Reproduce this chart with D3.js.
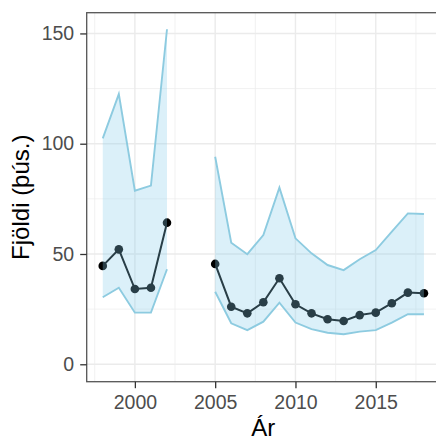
<!DOCTYPE html>
<html>
<head>
<meta charset="utf-8">
<script src="https://cdn.jsdelivr.net/npm/d3@7"></script>
<style>
  body { margin: 0; background: #fff; }
  svg { display: block; font-family: "Liberation Sans", Arial, sans-serif; }
</style>
</head>
<body>
<div id="chart"></div>
<script>
// values (þús.), null = no survey
var years = [1998, 1999, 2000, 2001, 2002, 2003, 2004, 2005, 2006, 2007, 2008,
             2009, 2010, 2011, 2012, 2013, 2014, 2015, 2016, 2017, 2018];
var estimate = [44.6, 52.1, 34.1, 34.7, 64.2, null, null, 45.5, 26.1, 23.1, 28.1,
                39.0, 27.2, 23.1, 20.4, 19.6, 22.3, 23.4, 27.7, 32.5, 32.2];
var lower = [30.4, 34.7, 23.4, 23.4, 43.1, null, null, 32.9, 18.6, 15.5, 19.3,
             27.9, 18.9, 15.9, 14.3, 13.6, 14.8, 15.5, 18.9, 22.7, 22.7];
var upper = [102.4, 122.5, 78.7, 81.0, 151.9, null, null, 94.1, 55.1, 49.9, 58.6,
             80.1, 57.1, 50.3, 45.0, 42.7, 47.6, 51.8, 60.1, 68.4, 68.1];

var xTicks = [2000, 2005, 2010, 2015];
var xMinor = [1997.5, 2002.5, 2007.5, 2012.5, 2017.5];
var yTicks = [0, 50, 100, 150];
var yMinor = [25, 75, 125];

var width = 436,
    height = 442,
    pLeft = 86.7,
    pRight = 440,
    pTop = 12.7,
    pBottom = 381.7;

var data = years.map(function(y, i) {
  return {year: y, est: estimate[i], lo: lower[i], hi: upper[i]};
});

var x = d3.scaleLinear().domain([1997, 2019]).range([pLeft, pRight]);
var y = d3.scaleLinear().domain([-7.9, 159.4]).range([pBottom, pTop]);

var svg = d3.select("#chart").append("svg")
    .attr("width", width)
    .attr("height", height);

svg.append("defs").append("clipPath")
    .attr("id", "panel")
  .append("rect")
    .attr("x", pLeft).attr("y", pTop)
    .attr("width", pRight - pLeft).attr("height", pBottom - pTop);

var g = svg.append("g").attr("clip-path", "url(#panel)");

// grid
g.selectAll(".minor-x").data(xMinor).enter().append("line")
    .attr("x1", x).attr("x2", x).attr("y1", pTop).attr("y2", pBottom)
    .attr("stroke", "#ebebeb").attr("stroke-width", 0.7);
g.selectAll(".minor-y").data(yMinor).enter().append("line")
    .attr("y1", y).attr("y2", y).attr("x1", pLeft).attr("x2", pRight)
    .attr("stroke", "#ebebeb").attr("stroke-width", 0.7);
g.selectAll(".major-x").data(xTicks).enter().append("line")
    .attr("x1", x).attr("x2", x).attr("y1", pTop).attr("y2", pBottom)
    .attr("stroke", "#ebebeb").attr("stroke-width", 1.4);
g.selectAll(".major-y").data(yTicks).enter().append("line")
    .attr("y1", y).attr("y2", y).attr("x1", pLeft).attr("x2", pRight)
    .attr("stroke", "#ebebeb").attr("stroke-width", 1.4);

var defined = function(d) { return d.est !== null; };

// estimate line + points (drawn under the translucent ribbon)
g.append("path")
    .datum(data)
    .attr("fill", "none")
    .attr("stroke", "#000")
    .attr("stroke-width", 2)
    .attr("d", d3.line().defined(defined)
      .x(function(d) { return x(d.year); })
      .y(function(d) { return y(d.est); }));

g.selectAll(".pt").data(data.filter(defined)).enter().append("circle")
    .attr("cx", function(d) { return x(d.year); })
    .attr("cy", function(d) { return y(d.est); })
    .attr("r", 4.3)
    .attr("fill", "#000");

// ribbon
g.append("path")
    .datum(data)
    .attr("fill", "#87ceeb")
    .attr("fill-opacity", 0.3)
    .attr("d", d3.area().defined(defined)
      .x(function(d) { return x(d.year); })
      .y0(function(d) { return y(d.lo); })
      .y1(function(d) { return y(d.hi); }));

["lo", "hi"].forEach(function(k) {
  g.append("path")
      .datum(data)
      .attr("fill", "none")
      .attr("stroke", "#8dcbe0")
      .attr("stroke-width", 1.9)
      .attr("d", d3.line().defined(defined)
        .x(function(d) { return x(d.year); })
        .y(function(d) { return y(d[k]); }));
});

// panel border
svg.append("rect")
    .attr("x", pLeft).attr("y", pTop)
    .attr("width", pRight - pLeft).attr("height", pBottom - pTop)
    .attr("fill", "none")
    .attr("stroke", "#555")
    .attr("stroke-width", 1.3);

// axes
var yAxis = svg.append("g")
    .attr("transform", "translate(" + pLeft + ",0)")
    .call(d3.axisLeft(y).tickValues(yTicks).tickSize(6.5).tickPadding(6));
var xAxis = svg.append("g")
    .attr("transform", "translate(0," + pBottom + ")")
    .call(d3.axisBottom(x).tickValues(xTicks).tickFormat(d3.format("d")).tickSize(6.5).tickPadding(7));

[xAxis, yAxis].forEach(function(a) {
  a.select(".domain").remove();
  a.selectAll(".tick line").attr("stroke", "#333").attr("stroke-width", 1.3);
  a.selectAll(".tick text")
      .attr("fill", "#4d4d4d")
      .style("font-size", "19.5px")
      .style("font-family", "'Liberation Sans', Arial, sans-serif");
});

// titles
svg.append("text")
    .attr("x", (pLeft + pRight) / 2)
    .attr("y", 436)
    .attr("text-anchor", "middle")
    .style("font-size", "24px")
    .attr("fill", "#000")
    .text("Ár");

svg.append("text")
    .attr("transform", "translate(29," + ((pTop + pBottom) / 2) + ") rotate(-90)")
    .attr("text-anchor", "middle")
    .style("font-size", "24px")
    .attr("fill", "#000")
    .text("Fjöldi (þús.)");
</script>
</body>
</html>
